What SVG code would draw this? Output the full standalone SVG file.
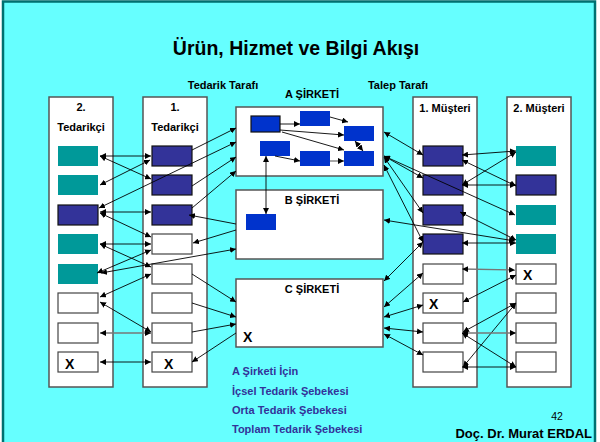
<svg xmlns="http://www.w3.org/2000/svg" width="600" height="442" viewBox="0 0 600 442">
  <style>
    text { font-family: "Liberation Sans", Arial, sans-serif; font-weight: bold; fill: #000; }
    .title { font-size: 19.5px; }
    .lbl { font-size: 11px; }
    .x { font-size: 14px; }
    .legend { font-size: 11px; fill: #333399; }
    .col { fill: #fff; stroke: #555; stroke-width: 1.5; }
    .co { fill: #fff; stroke: #555; stroke-width: 1.5; }
    .teal { fill: #009999; }
    .navy { fill: #333399; stroke: #111; stroke-width: 1.2; }
    .blank { fill: #fff; stroke: #444; stroke-width: 1.2; }
    .blue { fill: #0033CC; }
    .blueb { fill: #0033CC; stroke: #111; stroke-width: 1.2; }
    #connectors line { stroke: #000; stroke-width: 0.9; fill: none; }
    #connectors line.g { stroke: #777; stroke-width: 1.3; }
    #connectors .both { marker-start: url(#ah); marker-end: url(#ah); }
    #connectors .end { marker-end: url(#ah); }
  </style>
  <defs>
    <marker id="ah" viewBox="0 0 8 8" refX="8" refY="4" markerWidth="6" markerHeight="6" markerUnits="userSpaceOnUse" orient="auto-start-reverse">
      <path d="M0,0 L8,4 L0,8 z" fill="#000"/>
    </marker>
  </defs>

  <!-- slide background and frame -->
  <rect x="0" y="0" width="600" height="442" fill="#fff"/>
  <rect x="3" y="1.5" width="592" height="460" fill="#66FFFF" stroke="#007070" stroke-width="2.5"/>

  <text class="title" x="296" y="55" text-anchor="middle">Ürün, Hizmet ve Bilgi Akışı</text>
  <text class="lbl" x="223" y="89" text-anchor="middle">Tedarik Tarafı</text>
  <text class="lbl" x="398" y="89" text-anchor="middle">Talep Tarafı</text>

  <!-- 2. Tedarikçi column -->
  <g id="supplier2">
    <rect class="col" x="49" y="97" width="64" height="290"/>
    <text class="lbl" x="81" y="111" text-anchor="middle">2.</text>
    <text class="lbl" x="81" y="130.5" text-anchor="middle">Tedarikçi</text>
    <rect class="teal" x="58" y="146" width="40" height="20"/>
    <rect class="teal" x="58" y="175" width="40" height="20"/>
    <rect class="navy" x="58" y="205" width="40" height="20"/>
    <rect class="teal" x="58" y="234" width="40" height="20"/>
    <rect class="teal" x="58" y="264" width="40" height="20"/>
    <rect class="blank" x="58" y="293" width="40" height="20"/>
    <rect class="blank" x="58" y="323" width="40" height="20"/>
    <rect class="blank" x="58" y="352" width="40" height="20"/>
    <text class="x" x="65" y="369">X</text>
  </g>

  <!-- 1. Tedarikçi column -->
  <g id="supplier1">
    <rect class="col" x="143" y="97" width="64" height="290"/>
    <text class="lbl" x="175" y="111" text-anchor="middle">1.</text>
    <text class="lbl" x="175" y="130.5" text-anchor="middle">Tedarikçi</text>
    <rect class="navy" x="152" y="146" width="40" height="20"/>
    <rect class="navy" x="152" y="175" width="40" height="20"/>
    <rect class="navy" x="152" y="205" width="40" height="20"/>
    <rect class="blank" x="152" y="234" width="40" height="20"/>
    <rect class="blank" x="152" y="264" width="40" height="20"/>
    <rect class="blank" x="152" y="293" width="40" height="20"/>
    <rect class="blank" x="152" y="323" width="40" height="20"/>
    <rect class="blank" x="152" y="352" width="40" height="20"/>
    <text class="x" x="164" y="369">X</text>
  </g>

  <!-- 1. Müşteri column -->
  <g id="customer1">
    <rect class="col" x="413" y="97" width="64" height="290"/>
    <text class="lbl" x="445" y="112" text-anchor="middle">1. Müşteri</text>
    <rect class="navy" x="423" y="146" width="40" height="20"/>
    <rect class="navy" x="423" y="175" width="40" height="20"/>
    <rect class="navy" x="423" y="205" width="40" height="20"/>
    <rect class="navy" x="423" y="234" width="40" height="20"/>
    <rect class="blank" x="423" y="264" width="40" height="20"/>
    <rect class="blank" x="423" y="293" width="40" height="20"/>
    <rect class="blank" x="423" y="323" width="40" height="20"/>
    <rect class="blank" x="423" y="352" width="40" height="20"/>
    <text class="x" x="429" y="309">X</text>
  </g>

  <!-- 2. Müşteri column -->
  <g id="customer2">
    <rect class="col" x="507" y="97" width="64" height="290"/>
    <text class="lbl" x="539" y="112" text-anchor="middle">2. Müşteri</text>
    <rect class="teal" x="516" y="146" width="40" height="20"/>
    <rect class="navy" x="516" y="175" width="40" height="20"/>
    <rect class="teal" x="516" y="205" width="40" height="20"/>
    <rect class="teal" x="516" y="234" width="40" height="20"/>
    <rect class="blank" x="516" y="264" width="40" height="20"/>
    <rect class="blank" x="516" y="293" width="40" height="20"/>
    <rect class="blank" x="516" y="323" width="40" height="20"/>
    <rect class="blank" x="516" y="352" width="40" height="20"/>
    <text class="x" x="523" y="280">X</text>
  </g>

  <!-- A ŞİRKETİ with its internal units -->
  <g id="companyA">
    <text class="lbl" x="312" y="98" text-anchor="middle">A ŞİRKETİ</text>
    <rect class="co" x="236" y="107" width="147" height="69"/>
    <rect class="blueb" x="251" y="116" width="29" height="16"/>
    <rect class="blue" x="300" y="111" width="30" height="15"/>
    <rect class="blue" x="344" y="126" width="30" height="15"/>
    <rect class="blue" x="260" y="141" width="30" height="15"/>
    <rect class="blue" x="300" y="151" width="30" height="15"/>
    <rect class="blue" x="344" y="151" width="30" height="15"/>
  </g>

  <!-- B ŞİRKETİ -->
  <g id="companyB">
    <rect class="co" x="236" y="190" width="147" height="69"/>
    <text class="lbl" x="312" y="204" text-anchor="middle">B ŞİRKETİ</text>
    <rect class="blue" x="246" y="214" width="30" height="16"/>
  </g>

  <!-- C ŞİRKETİ -->
  <g id="companyC">
    <rect class="co" x="236" y="279" width="147" height="68"/>
    <text class="lbl" x="312" y="293" text-anchor="middle">C ŞİRKETİ</text>
    <text class="x" x="243" y="342">X</text>
  </g>

  <g id="connectors">
    <!-- inside A, and A to B -->
    <line class="end" x1="280" y1="124" x2="300" y2="124"/>
    <line class="end" x1="330" y1="117" x2="348" y2="122"/>
    <line class="end" x1="280" y1="130" x2="344" y2="135"/>
    <line class="end" x1="282" y1="132" x2="344" y2="150"/>
    <line class="both" x1="355" y1="141" x2="363" y2="151"/>
    <line class="end" x1="275" y1="156" x2="300" y2="161"/>
    <line class="end g" x1="330" y1="161" x2="344" y2="161"/>
    <line class="both" x1="266" y1="156" x2="266" y2="214"/>

    <!-- 2. Tedarikçi to 1. Tedarikçi -->
    <line class="both" x1="100" y1="156" x2="151" y2="156"/>
    <line class="both" x1="100" y1="156" x2="151" y2="179"/>
    <line class="both" x1="100" y1="185" x2="150" y2="160"/>
    <line class="both" x1="100" y1="212" x2="151" y2="212"/>
    <line class="both" x1="100" y1="213" x2="151" y2="237"/>
    <line class="both" x1="100" y1="244" x2="151" y2="244"/>
    <line class="both" x1="100" y1="244" x2="151" y2="267"/>
    <line class="both" x1="97" y1="273" x2="151" y2="250"/>
    <line class="both" x1="100" y1="297" x2="151" y2="274"/>
    <line class="both" x1="100" y1="302" x2="151" y2="332"/>
    <line class="both g" x1="100" y1="333" x2="151" y2="333"/>
    <line class="both" x1="100" y1="362" x2="151" y2="362"/>

    <!-- supplier side to companies -->
    <line class="both" x1="99" y1="208" x2="236" y2="142"/>
    <line class="both" x1="101" y1="273" x2="236" y2="249"/>
    <line class="end" x1="192" y1="150" x2="236" y2="128"/>
    <line class="end" x1="192" y1="186" x2="236" y2="157"/>
    <line class="end" x1="192" y1="208" x2="236" y2="171"/>
    <line class="end" x1="236" y1="224" x2="189" y2="215"/>
    <line class="end" x1="236" y1="230" x2="193" y2="243"/>
    <line class="end" x1="192" y1="274" x2="236" y2="302"/>
    <line class="end" x1="192" y1="303" x2="236" y2="317"/>
    <line class="end" x1="192" y1="332" x2="236" y2="324"/>
    <line class="end" x1="236" y1="333" x2="192" y2="362"/>

    <!-- companies to demand side -->
    <line class="both" x1="384" y1="132" x2="423" y2="155"/>
    <line class="both" x1="384" y1="156" x2="423" y2="178"/>
    <line class="both" x1="384" y1="156" x2="515" y2="215"/>
    <line class="both" x1="384" y1="157" x2="423" y2="213"/>
    <line class="both" x1="384" y1="165" x2="423" y2="242"/>
    <line class="both" x1="384" y1="220" x2="515" y2="241"/>
    <line class="both" x1="423" y1="242" x2="384" y2="281"/>
    <line class="both" x1="423" y1="273" x2="384" y2="307"/>
    <line class="both" x1="423" y1="305" x2="384" y2="317"/>
    <line class="both" x1="423" y1="332" x2="384" y2="328"/>
    <line class="both" x1="423" y1="355" x2="384" y2="334"/>

    <!-- 1. Müşteri to 2. Müşteri -->
    <line class="both" x1="462" y1="155" x2="516" y2="151"/>
    <line class="both" x1="462" y1="160" x2="516" y2="186"/>
    <line class="both" x1="462" y1="185" x2="516" y2="185"/>
    <line class="both" x1="462" y1="185" x2="516" y2="152"/>
    <line class="both" x1="460" y1="212" x2="516" y2="240"/>
    <line class="both" x1="462" y1="243" x2="516" y2="243"/>
    <line class="both g" x1="462" y1="269" x2="515" y2="270"/>
    <line class="both" x1="463" y1="302" x2="516" y2="275"/>
    <line class="both" x1="463" y1="332" x2="516" y2="303"/>
    <line class="both" x1="463" y1="367" x2="516" y2="303"/>
    <line class="both g" x1="462" y1="333" x2="516" y2="333"/>
    <line class="both" x1="462" y1="333" x2="516" y2="367"/>
    <line class="both" x1="462" y1="367" x2="516" y2="367"/>
  </g>

  <!-- notes -->
  <text class="legend" x="232" y="375">A Şirketi İçin</text>
  <text class="legend" x="232" y="395">İçsel Tedarik Şebekesi</text>
  <text class="legend" x="232" y="414">Orta Tedarik Şebekesi</text>
  <text class="legend" x="232" y="433">Toplam Tedarik Şebekesi</text>
  <text x="557" y="420" text-anchor="middle" style="font-weight:normal;font-size:10.5px">42</text>
  <text x="592" y="438" text-anchor="end" style="font-size:13px">Doç. Dr. Murat ERDAL</text>
</svg>
